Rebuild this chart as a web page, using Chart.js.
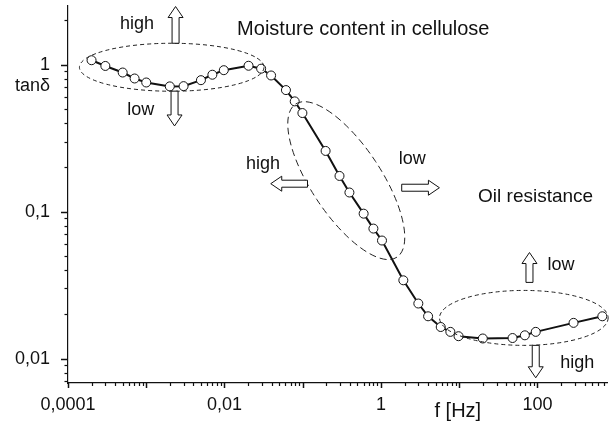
<!DOCTYPE html>
<html><head><meta charset="utf-8">
<script src="https://cdn.jsdelivr.net/npm/chart.js@4/dist/chart.umd.min.js"></script>
<style>html,body{margin:0;padding:0;background:#fff;}canvas{display:block;}</style>
</head><body>
<canvas id="c" width="613" height="429"></canvas>
<script>
// ---- data ----
const frequencyHz = [2.0e-4, 3.0e-4, 5.0e-4, 7.1e-4, 1.0e-3, 2.0e-3, 3.0e-3, 5.0e-3, 7.0e-3, 0.0098,
  0.0203, 0.0294, 0.0394, 0.061, 0.079, 0.099, 0.196, 0.295, 0.395, 0.60, 0.80, 1.03,
  1.93, 3.0, 4.0, 5.8, 7.7, 9.8, 20, 48, 69, 95, 289, 674];
const tanDelta = [1.073, 0.981, 0.885, 0.806, 0.757, 0.712, 0.715, 0.785, 0.855, 0.918,
  0.984, 0.940, 0.845, 0.672, 0.563, 0.469, 0.259, 0.175, 0.135, 0.0969, 0.0767, 0.0636,
  0.0341, 0.0237, 0.0194, 0.0164, 0.0152, 0.0142, 0.0137, 0.0138, 0.0144, 0.0152, 0.0175, 0.0194];
const xTickValues = [0.0001, 0.01, 1, 100];
const xTickLabels = ['0,0001', '0,01', '1', '100'];
const yTickValues = [0.01, 0.1, 1];
const yTickLabels = ['0,01', '0,1', '1'];
const xAxisTitle = 'f [Hz]';
const yAxisTitle = 'tanδ';

// annotations, anchored in data space
const ellipses = [
  {type: 'box', fMin: 1.4e-4, fMax: 0.032, tMin: 0.66, tMax: 1.40, dash: [4, 3]},
  {type: 'tilted', f1: 0.081, t1: 0.54, f2: 1.6, t2: 0.049, halfWidth: 35, dash: [7, 4]},
  {type: 'box', fMin: 5.6, fMax: 800, tMin: 0.0123, tMax: 0.0291, dash: [4, 3]}
];
const arrows = [
  {tailF: 2.37e-3, tailT: 1.40, tipF: 2.37e-3, tipT: 2.49},
  {tailF: 2.3e-3, tailT: 0.661, tipF: 2.3e-3, tipT: 0.383},
  {tailF: 0.115, tailT: 0.155, tipF: 0.039, tipT: 0.155},
  {tailF: 1.84, tailT: 0.1455, tipF: 5.58, tipT: 0.1455},
  {tailF: 79, tailT: 0.033, tipF: 79, tipT: 0.0527},
  {tailF: 95, tailT: 0.0123, tipF: 95, tipT: 0.0074}
];
const notes = [
  {text: 'high', f: 4.63e-4, t: 1.74, size: 18},
  {text: 'Moisture content in cellulose', f: 0.0145, t: 1.585, size: 20},
  {text: 'low', f: 5.7e-4, t: 0.455, size: 18},
  {text: 'high', f: 0.0188, t: 0.196, size: 18},
  {text: 'low', f: 1.69, t: 0.2115, size: 18},
  {text: 'Oil resistance', f: 17.4, t: 0.117, size: 19},
  {text: 'low', f: 134, t: 0.0398, size: 18},
  {text: 'high', f: 196, t: 0.0086, size: 18}
];

const FONT = "'Liberation Sans', Arial, sans-serif";

function drawArrow(ctx, x0, y0, x1, y1) {
  const shaft = 7, head = 15, headLen = 11;
  const len = Math.hypot(x1 - x0, y1 - y0);
  const dx = (x1 - x0) / len, dy = (y1 - y0) / len;
  const nx = -dy, ny = dx;
  const bx = x1 - dx * headLen, by = y1 - dy * headLen;
  const pts = [
    [x0 + nx * shaft / 2, y0 + ny * shaft / 2],
    [bx + nx * shaft / 2, by + ny * shaft / 2],
    [bx + nx * head / 2, by + ny * head / 2],
    [x1, y1],
    [bx - nx * head / 2, by - ny * head / 2],
    [bx - nx * shaft / 2, by - ny * shaft / 2],
    [x0 - nx * shaft / 2, y0 - ny * shaft / 2]
  ];
  ctx.beginPath();
  pts.forEach((p, i) => i ? ctx.lineTo(p[0], p[1]) : ctx.moveTo(p[0], p[1]));
  ctx.closePath();
  ctx.fillStyle = '#fff';
  ctx.fill();
  ctx.lineWidth = 1;
  ctx.strokeStyle = '#111';
  ctx.stroke();
}

const decorPlugin = {
  id: 'decor',
  afterDraw(chart) {
    const ctx = chart.ctx, xs = chart.scales.x, ys = chart.scales.y;
    ctx.save();
    // minor / major tick marks
    ctx.strokeStyle = '#111';
    for (let k = -5; k <= 3; k++) {
      for (let m = 1; m <= 9; m++) {
        const v = m * Math.pow(10, k);
        if (v >= xs.min * 0.999 && v <= xs.max) {
          const p = Math.round(xs.getPixelForValue(v)) + 0.5;
          const L = m === 1 ? 5 : 3;
          ctx.lineWidth = m === 1 ? 1.5 : 1.2;
          ctx.beginPath(); ctx.moveTo(p, xs.top); ctx.lineTo(p, xs.top + L); ctx.stroke();
        }
        if (v >= ys.min && v <= ys.max) {
          const p = Math.round(ys.getPixelForValue(v)) + 0.5;
          const L = m === 1 ? 7 : 3.5;
          ctx.lineWidth = m === 1 ? 1.5 : 1.2;
          ctx.beginPath(); ctx.moveTo(ys.right, p); ctx.lineTo(ys.right - L, p); ctx.stroke();
        }
      }
    }
    // ellipses
    ctx.lineWidth = 1;
    ctx.strokeStyle = '#222';
    ellipses.forEach(e => {
      ctx.setLineDash(e.dash);
      ctx.beginPath();
      if (e.type === 'box') {
        const l = xs.getPixelForValue(e.fMin), r = xs.getPixelForValue(e.fMax);
        const t = ys.getPixelForValue(e.tMax), b = ys.getPixelForValue(e.tMin);
        ctx.ellipse((l + r) / 2, (t + b) / 2, (r - l) / 2, (b - t) / 2, 0, 0, Math.PI * 2);
      } else {
        const x1 = xs.getPixelForValue(e.f1), y1 = ys.getPixelForValue(e.t1);
        const x2 = xs.getPixelForValue(e.f2), y2 = ys.getPixelForValue(e.t2);
        const a = Math.hypot(x2 - x1, y2 - y1) / 2;
        ctx.ellipse((x1 + x2) / 2, (y1 + y2) / 2, a, e.halfWidth, Math.atan2(y2 - y1, x2 - x1), 0, Math.PI * 2);
      }
      ctx.stroke();
    });
    ctx.setLineDash([]);
    // arrows
    arrows.forEach(a => drawArrow(ctx,
      xs.getPixelForValue(a.tailF), ys.getPixelForValue(a.tailT),
      xs.getPixelForValue(a.tipF), ys.getPixelForValue(a.tipT)));
    // notes
    ctx.fillStyle = '#111';
    ctx.textBaseline = 'alphabetic';
    ctx.textAlign = 'left';
    notes.forEach(n => {
      ctx.font = n.size + 'px ' + FONT;
      ctx.fillText(n.text, xs.getPixelForValue(n.f), ys.getPixelForValue(n.t));
    });
    // axis titles
    ctx.font = '18px ' + FONT;
    ctx.textAlign = 'right';
    ctx.textBaseline = 'middle';
    ctx.fillText(yAxisTitle, ys.right - 18, ys.getPixelForValue(0.715));
    ctx.font = '20px ' + FONT;
    ctx.textAlign = 'center';
    ctx.textBaseline = 'alphabetic';
    ctx.fillText(xAxisTitle, xs.getPixelForValue(9.6), xs.top + 34);
    ctx.restore();
  }
};

new Chart(document.getElementById('c'), {
  type: 'line',
  data: {
    datasets: [{
      data: frequencyHz.map((f, i) => ({x: f, y: tanDelta[i]})),
      borderColor: '#111',
      borderWidth: 2,
      pointRadius: 4.5,
      pointBackgroundColor: '#fff',
      pointBorderColor: '#111',
      pointBorderWidth: 1,
      tension: 0
    }]
  },
  options: {
    responsive: false,
    animation: false,
    devicePixelRatio: 1,
    layout: {padding: {top: 4, right: 0, left: 0, bottom: 0}},
    plugins: {legend: {display: false}, tooltip: {enabled: false}},
    scales: {
      x: {
        type: 'logarithmic', position: 'bottom', min: 1e-4, max: 785,
        grid: {display: false, drawTicks: false},
        border: {display: true, color: '#111', width: 1.2},
        afterBuildTicks: s => { s.ticks = xTickValues.map(v => ({value: v})); },
        afterFit: s => { s.height = 46; s.paddingLeft = 0; s.paddingRight = 0; },
        ticks: {
          autoSkip: false, maxRotation: 0, padding: 11, color: '#111',
          font: {family: FONT, size: 18},
          callback: v => { const i = xTickValues.findIndex(t => Math.abs(t - v) / t < 1e-6); return i >= 0 ? xTickLabels[i] : ''; }
        }
      },
      y: {
        type: 'logarithmic', position: 'left', min: 0.00682, max: 2.53,
        grid: {display: false, drawTicks: false},
        border: {display: true, color: '#111', width: 1.2},
        afterBuildTicks: s => { s.ticks = yTickValues.map(v => ({value: v})); },
        afterFit: s => { s.width = 68; s.paddingTop = 0; s.paddingBottom = 0; },
        ticks: {
          autoSkip: false, padding: 18, color: '#111',
          font: {family: FONT, size: 18},
          callback: v => { const i = yTickValues.findIndex(t => Math.abs(t - v) / t < 1e-6); return i >= 0 ? yTickLabels[i] : ''; }
        }
      }
    }
  },
  plugins: [decorPlugin]
});
</script>
</body></html>
